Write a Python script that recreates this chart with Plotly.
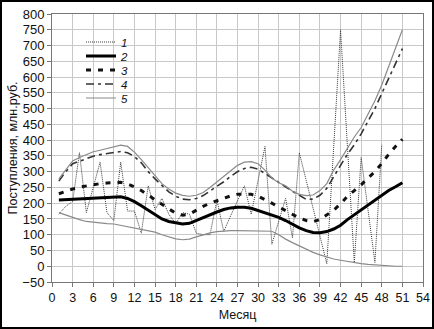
import plotly.graph_objects as go

months_actual = list(range(1, 49))
actual = [165, 190, 205, 360, 170, 250, 330, 170, 145, 330,
          175, 175, 105, 255, 180, 215, 165, 135, 170, 165,
          105, 100, 100, 210, 110, 160, 210, 255, 165, 270,
          380, 70, 140, 215, 90, 360, 272, 184, 96, 8,
          378, 750, 380, 12, 345, 178, 12, 385]

months = list(range(1, 52))
trend = [210, 211, 212, 213, 214, 215, 216, 217, 218, 220,
         215, 205, 192, 178, 163, 150, 142, 137, 134, 136,
         145, 156, 165, 172, 180, 185, 187, 187, 184, 177,
         170, 162, 155, 145, 133, 122, 113, 107, 106, 110,
         118, 130, 148, 163, 178, 195, 210, 225, 240, 252, 265]
forecast3 = [230, 238, 245, 251, 255, 259, 262, 264, 266, 266,
             261, 252, 240, 225, 210, 196, 182, 168, 162, 165,
             178, 190, 200, 208, 216, 223, 228, 229, 228, 222,
             212, 200, 188, 176, 164, 153, 145, 141, 148, 162,
             178, 198, 222, 240, 258, 280, 300, 326, 355, 380, 403]
forecast4 = [270, 300, 325, 333, 342, 349, 354, 358, 361, 364,
             360, 348, 328, 300, 277, 255, 236, 222, 213, 211,
             215, 224, 238, 252, 268, 285, 300, 310, 314, 308,
             294, 278, 264, 250, 238, 225, 212, 213, 225, 247,
             285, 320, 355, 385, 420, 458, 500, 548, 595, 640, 690]
upper5 = [277, 305, 334, 345, 355, 363, 368, 373, 379, 384,
          380, 362, 338, 312, 289, 262, 245, 232, 225, 222,
          225, 234, 250, 267, 284, 303, 320, 330, 332, 325,
          305, 280, 265, 255, 238, 228, 224, 226, 240, 262,
          305, 338, 375, 410, 440, 480, 525, 575, 635, 690, 750]
lower5 = [170, 162, 155, 148, 142, 139, 137, 135, 134, 130,
          126, 122, 117, 112, 108, 100, 93, 87, 84, 86,
          93, 100, 106, 110, 112, 113, 113, 113, 113, 113,
          112, 111, 100, 86, 75, 64, 53, 44, 36, 29,
          23, 19, 15, 11, 8, 6, 4, 2, 1, 0, 0]

legend_names = ["1", "2", "3", "4", "5"]
x_ticks = list(range(0, 55, 3))
y_ticks = list(range(-50, 801, 50))

L, R, T, B = 52, 11, 14, 47
W, H = 434, 329
pw, ph = W - L - R, H - T - B

def px(xp):
    return (xp - L) / pw

def py(yp):
    return (H - B - yp) / ph

legend_ids = ["legend", "legend2", "legend3", "legend4", "legend5"]

fig = go.Figure()
fig.add_trace(go.Scatter(x=months_actual, y=actual, mode="lines", name=legend_names[0],
                         legend=legend_ids[0],
                         line=dict(color="#3a3a3a", width=1, dash="1px,1px")))
fig.add_trace(go.Scatter(x=months, y=trend, mode="lines", name=legend_names[1],
                         legend=legend_ids[1],
                         line=dict(color="#000000", width=3)))
fig.add_trace(go.Scatter(x=months, y=forecast3, mode="lines", name=legend_names[2],
                         legend=legend_ids[2],
                         line=dict(color="#111111", width=3, dash="5px,7px")))
fig.add_trace(go.Scatter(x=months, y=forecast4, mode="lines", name=legend_names[3],
                         legend=legend_ids[3],
                         line=dict(color="#333333", width=1.6, dash="8px,4px,3px,4px")))
fig.add_trace(go.Scatter(x=months, y=upper5, mode="lines", name=legend_names[4],
                         legend=legend_ids[4],
                         line=dict(color="#8a8a8a", width=1.2)))
fig.add_trace(go.Scatter(x=months, y=lower5, mode="lines", name=legend_names[4],
                         showlegend=False, line=dict(color="#8a8a8a", width=1.2)))

legend_font = dict(size=11.5, family="Liberation Sans, Arial, sans-serif", style="italic")
legend_layout = {}
for i, lid in enumerate(legend_ids):
    legend_layout[lid] = dict(x=px(81), y=py(42 + 14 * i), xanchor="left", yanchor="middle",
                              bgcolor="rgba(0,0,0,0)", itemwidth=30, font=legend_font)

fig.update_layout(
    width=W, height=H,
    margin=dict(l=L, r=R, t=T, b=B, autoexpand=False),
    paper_bgcolor="white", plot_bgcolor="white",
    font=dict(family="Liberation Sans, Arial, sans-serif", size=12, color="#111"),
    showlegend=True,
    xaxis=dict(range=[0, 54], tickvals=x_ticks, showgrid=True, gridcolor="#c8c8c8",
               gridwidth=1, zeroline=False, showline=True, linecolor="#777", mirror=True,
               ticks="outside", ticklen=4, tickcolor="#777",
               tickfont=dict(size=12.5),
               title=dict(text="Месяц", standoff=6, font=dict(size=12.5))),
    yaxis=dict(range=[-50, 800], tickvals=y_ticks, showgrid=True, gridcolor="#c8c8c8",
               gridwidth=1, zeroline=False, showline=True, linecolor="#777", mirror=True,
               ticks="outside", ticklen=4, tickcolor="#777",
               tickfont=dict(size=13),
               title=dict(text="Поступления, млн.руб.", standoff=1, font=dict(size=12.5))),
    shapes=[dict(type="rect", xref="paper", yref="paper",
                 x0=px(1), x1=px(W - 1), y0=py(H - 1), y1=py(1),
                 line=dict(color="black", width=2), fillcolor="rgba(0,0,0,0)", layer="above")],
    **legend_layout,
)

fig.write_html("out.html", config={"displayModeBar": False},
               post_script="document.body.style.margin='0';document.body.style.overflow='hidden';")
